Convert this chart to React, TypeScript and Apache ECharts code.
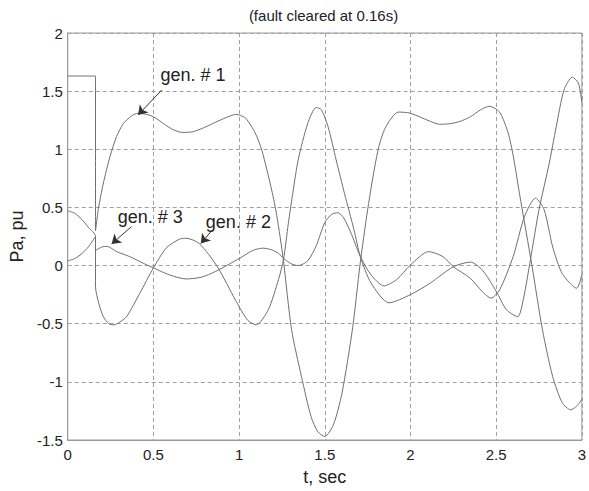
import React, { useEffect, useRef } from "react";
import * as echarts from "echarts";

const titleText = "(fault cleared at 0.16s)";
const xName = "t, sec";
const yName = "Pa, pu";

// gen. # 1
const gen1: number[][] = [
  [0, 1.63], [0.162, 1.63], [0.162, 0.3], [0.179, 0.49], [0.208, 0.71], [0.247, 0.94],
  [0.285, 1.11], [0.324, 1.22], [0.37, 1.285], [0.41, 1.31], [0.46, 1.3], [0.5, 1.28],
  [0.56, 1.22], [0.613, 1.17], [0.67, 1.145], [0.728, 1.15], [0.786, 1.18], [0.844, 1.22],
  [0.92, 1.27], [0.98, 1.3], [1.036, 1.27], [1.094, 1.14], [1.133, 0.99], [1.19, 0.65],
  [1.22, 0.43], [1.258, 0.05], [1.306, -0.55], [1.364, -0.955], [1.42, -1.3], [1.46, -1.43],
  [1.5, -1.47], [1.55, -1.37], [1.6, -1.1], [1.663, -0.53], [1.705, 0.0], [1.75, 0.48],
  [1.81, 0.99], [1.855, 1.19], [1.93, 1.32], [2.0, 1.31], [2.116, 1.24], [2.17, 1.215],
  [2.23, 1.22], [2.29, 1.24], [2.35, 1.28], [2.41, 1.34], [2.46, 1.37], [2.52, 1.32],
  [2.57, 1.14], [2.6, 0.94], [2.636, 0.62], [2.71, -0.01], [2.77, -0.55], [2.83, -0.955],
  [2.886, -1.18], [2.935, -1.24], [2.97, -1.21], [3.0, -1.15],
];

// gen. # 2
const gen2: number[][] = [
  [0, 0.47], [0.04, 0.45], [0.08, 0.4], [0.12, 0.33], [0.162, 0.25], [0.162, -0.18],
  [0.18, -0.32], [0.208, -0.44], [0.24, -0.5], [0.27, -0.51], [0.3, -0.49], [0.343, -0.44],
  [0.42, -0.24], [0.5, -0.02], [0.574, 0.15], [0.65, 0.226], [0.69, 0.235], [0.767, 0.19],
  [0.873, -0.01], [0.98, -0.3], [1.05, -0.47], [1.1, -0.51], [1.17, -0.38], [1.23, -0.12],
  [1.26, 0.06], [1.287, 0.36], [1.316, 0.65], [1.345, 0.91], [1.4, 1.22], [1.45, 1.36],
  [1.48, 1.34], [1.52, 1.19], [1.566, 0.91], [1.615, 0.62], [1.67, 0.31], [1.707, 0.08],
  [1.77, -0.15], [1.875, -0.32], [2.0, -0.25], [2.116, -0.15], [2.25, -0.01], [2.35, 0.03],
  [2.42, -0.04], [2.5, -0.22], [2.56, -0.38], [2.626, -0.44], [2.66, -0.28], [2.7, 0.05],
  [2.75, 0.48], [2.81, 0.88], [2.85, 1.19], [2.896, 1.51], [2.944, 1.62], [2.98, 1.57],
  [3.0, 1.4],
];

// gen. # 3
const gen3: number[][] = [
  [0, 0.04], [0.04, 0.06], [0.08, 0.1], [0.12, 0.16], [0.162, 0.25], [0.162, 0.13],
  [0.2, 0.16], [0.23, 0.165], [0.285, 0.12], [0.362, 0.077], [0.44, 0.02], [0.5, -0.02],
  [0.594, -0.08], [0.69, -0.115], [0.78, -0.1], [0.863, -0.05], [1.0, 0.06], [1.08, 0.13],
  [1.14, 0.15], [1.19, 0.135], [1.23, 0.105], [1.26, 0.06], [1.306, 0.014], [1.345, 0.0],
  [1.4, 0.04], [1.45, 0.17], [1.5, 0.37], [1.54, 0.44], [1.576, 0.455], [1.61, 0.41],
  [1.65, 0.29], [1.707, 0.08], [1.77, -0.08], [1.846, -0.175], [1.92, -0.12], [2.0, 0.005],
  [2.106, 0.12], [2.19, 0.077], [2.25, -0.01], [2.35, -0.11], [2.42, -0.225], [2.47, -0.28],
  [2.52, -0.21], [2.6, 0.08], [2.665, 0.42], [2.73, 0.58], [2.78, 0.48], [2.83, 0.16],
  [2.886, -0.07], [2.97, -0.195], [3.0, -0.08],
];

// annotation labels: [t, y] of label left-middle point, and arrow from -> to
const labelNames = ["gen. # 1", "gen. # 2", "gen. # 3"];
const labelAnchors: number[][] = [[0.538, 1.639], [0.803, 0.375], [0.289, 0.418]];
const arrowFrom: number[][] = [[0.549, 1.51], [0.844, 0.306], [0.372, 0.335]];
const arrowTo: number[][] = [[0.41, 1.295], [0.776, 0.19], [0.256, 0.186]];

const FONT = "'Liberation Sans', Arial, Helvetica, sans-serif";
const CURVE = "#6f6f6f";

export default function App() {
  const ref = useRef<HTMLDivElement>(null);
  useEffect(() => {
    document.body.style.margin = "0";
    const chart = echarts.init(ref.current!, null, { renderer: "svg" });
    const gens = [gen1, gen2, gen3];
    chart.setOption({
      animation: false,
      textStyle: { fontFamily: FONT },
      grid: {
        left: 64,
        right: 6,
        top: 33,
        bottom: 51,
        show: true,
        borderColor: "#9a9a9a",
        borderWidth: 1,
      },
      graphic: [
        {
          type: "text",
          x: 323.5,
          y: 15,
          style: {
            text: titleText,
            fontFamily: FONT,
            fontSize: 15,
            fill: "#222",
            textAlign: "center",
            textVerticalAlign: "middle",
          },
        },
      ],
      xAxis: {
        type: "value",
        min: 0,
        max: 3,
        interval: 0.5,
        name: xName,
        nameLocation: "middle",
        nameGap: 28,
        nameTextStyle: { fontSize: 18, color: "#222", fontFamily: FONT },
        axisLine: { show: true, onZero: false, lineStyle: { color: "#9a9a9a" } },
        axisTick: { show: false },
        axisLabel: { color: "#222", fontSize: 15, margin: 7, fontFamily: FONT },
        splitLine: { show: true, lineStyle: { color: "#a0a0a0", type: [4, 3], width: 1 } },
      },
      yAxis: {
        type: "value",
        min: -1.5,
        max: 2,
        interval: 0.5,
        name: yName,
        nameLocation: "middle",
        nameGap: 37,
        nameTextStyle: { fontSize: 18, color: "#222", fontFamily: FONT },
        axisLine: { show: true, onZero: false, lineStyle: { color: "#9a9a9a" } },
        axisTick: { show: false },
        axisLabel: { color: "#222", fontSize: 15, margin: 5, fontFamily: FONT },
        splitLine: { show: true, lineStyle: { color: "#a0a0a0", type: [4, 3], width: 1 } },
      },
      series: gens.map((g, i) => ({
        type: "line",
        name: labelNames[i],
        data: g,
        symbol: "none",
        smooth: 0.25,
        lineStyle: { color: CURVE, width: 1 },
        silent: true,
        markLine: {
          silent: true,
          symbol: ["none", "arrow"],
          symbolSize: 9,
          label: { show: false },
          lineStyle: { color: "#333", type: "solid", width: 1 },
          itemStyle: { color: "#111" },
          data: [[{ coord: arrowFrom[i] }, { coord: arrowTo[i] }]],
        },
        markPoint: {
          silent: true,
          symbol: "circle",
          symbolSize: 1,
          itemStyle: { color: "rgba(0,0,0,0)" },
          label: {
            show: true,
            position: "right",
            distance: 0,
            color: "#222",
            fontSize: 18,
            fontFamily: FONT,
            formatter: labelNames[i],
          },
          data: [{ coord: labelAnchors[i] }],
        },
      })),
    });
    return () => chart.dispose();
  }, []);
  return <div ref={ref} style={{ width: 589, height: 491 }} />;
}
